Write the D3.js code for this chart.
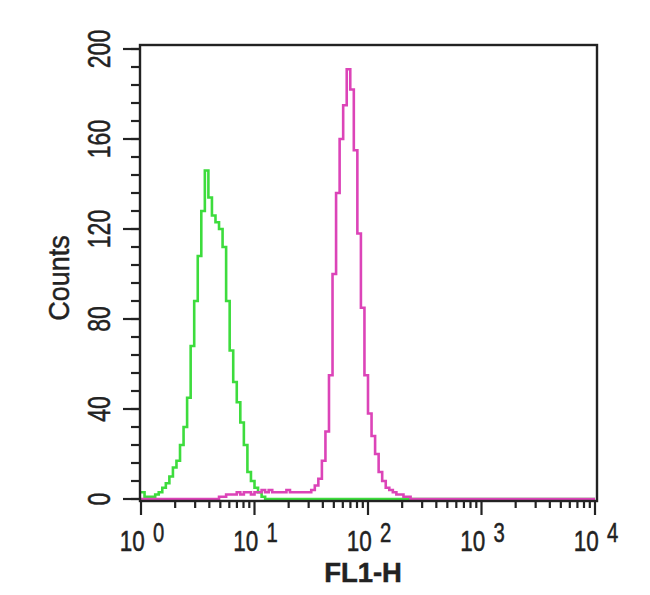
<!DOCTYPE html>
<html>
<head>
<meta charset="utf-8">
<script src="https://cdn.jsdelivr.net/npm/d3@7/dist/d3.min.js"></script>
<style>
  html, body { margin: 0; padding: 0; background: #fff; }
  svg { display: block; }
  text { font-family: "Liberation Sans", Arial, Helvetica, sans-serif; fill: #222; stroke: #222; stroke-width: 0.5; }
</style>
</head>
<body>
<svg id="chart" width="650" height="595"></svg>
<script>
// ---- data ----
// histogram bins: 128 bins across 4 decades (bin i spans 10^(i/32) .. 10^((i+1)/32))
const binsPerDecade = 32;
const totalBins = 128;
const greenStart = 0;
const greenCounts = [3,1,1,1,2,3,5,7,10,14,17,24,32,45,68,88,108,128,146,134,
  126,123,120,112,88,66,52,43,34,24,12,8,5,3,1,0];
const magentaStart = 20;
const magentaCounts = [0,0,1,1,2,2,2,3,2,3,3,2,3,3,4,3,4,3,3,3,3,4,3,3,3,3,3,3,4,6,
  9,17,30,55,100,136,160,175,191,182,155,118,85,55,38,28,20,12,8,5,4,3,2,2,1,1,0];
const yTicks = [0, 40, 80, 120, 160, 200];
const xDecades = [0, 1, 2, 3, 4];
const xLabel = "FL1-H";
const yLabel = "Counts";

// ---- layout ----
const svg = d3.select("#chart");
const x = d3.scaleLog().domain([1, 1e4]).range([141, 595]);
const y = d3.scaleLinear().domain([0, 200]).range([499, 49]);
const frame = { left: 140, right: 597, top: 45, bottom: 501 };

function series(start, counts) {
  const pts = [];
  if (start > 0) pts.push([1, 0]);
  counts.forEach((c, k) => pts.push([Math.pow(10, (start + k) / binsPerDecade), c]));
  const endBin = start + counts.length;
  if (endBin < totalBins) pts.push([Math.pow(10, endBin / binsPerDecade), 0]);
  pts.push([1e4, 0]);
  return pts;
}
const line = d3.line().x(d => x(d[0])).y(d => y(d[1])).curve(d3.curveStepAfter);

svg.append("path").datum(series(greenStart, greenCounts))
  .attr("d", line).attr("fill", "none").attr("stroke", "#3ddc3d").attr("stroke-width", 2.6);
svg.append("path").datum(series(magentaStart, magentaCounts))
  .attr("d", line).attr("fill", "none").attr("stroke", "#dc44b8").attr("stroke-width", 2.6);

// frame
svg.append("rect")
  .attr("x", frame.left).attr("y", frame.top)
  .attr("width", frame.right - frame.left).attr("height", frame.bottom - frame.top)
  .attr("fill", "none").attr("stroke", "#222").attr("stroke-width", 2.4);

// y ticks (major every 40, minor every 8)
const yMinor = d3.range(0, 201, 8);
svg.append("g").selectAll("line").data(yMinor).join("line")
  .attr("x1", 131).attr("x2", frame.left)
  .attr("y1", d => y(d)).attr("y2", d => y(d))
  .attr("stroke", "#222").attr("stroke-width", 2.2);
svg.append("g").selectAll("line").data(yTicks).join("line")
  .attr("x1", 123).attr("x2", frame.left)
  .attr("y1", d => y(d)).attr("y2", d => y(d))
  .attr("stroke", "#222").attr("stroke-width", 2.2);
svg.append("g").selectAll("text").data(yTicks).join("text")
  .attr("transform", d => `translate(110,${y(d)}) rotate(-90) scale(0.72,1)`)
  .attr("text-anchor", "middle")
  .attr("font-size", 32)
  .text(d => d);

// x ticks
const xMinor = [];
xDecades.slice(0, -1).forEach(e => { for (let m = 2; m <= 9; m++) xMinor.push(m * Math.pow(10, e)); });
svg.append("g").selectAll("line").data(xMinor).join("line")
  .attr("x1", d => x(d)).attr("x2", d => x(d))
  .attr("y1", frame.bottom).attr("y2", frame.bottom + 7)
  .attr("stroke", "#222").attr("stroke-width", 2.2);
svg.append("g").selectAll("line").data(xDecades).join("line")
  .attr("x1", d => x(Math.pow(10, d))).attr("x2", d => x(Math.pow(10, d)))
  .attr("y1", frame.bottom).attr("y2", frame.bottom + 14)
  .attr("stroke", "#222").attr("stroke-width", 2.2);
const xt = svg.append("g").selectAll("text").data(xDecades).join("text")
  .attr("transform", d => `translate(${x(Math.pow(10, d)) + 1},551) scale(0.75,1)`)
  .attr("text-anchor", "middle");
xt.append("tspan").attr("font-size", 30).text("10");
xt.append("tspan").attr("font-size", 27).attr("dx", 11).attr("dy", -9).text(d => d);

// axis labels
svg.append("text")
  .attr("transform", "translate(363,582) scale(0.98,1)")
  .attr("text-anchor", "middle").attr("font-size", 28).attr("font-weight", "bold")
  .attr("stroke-width", 0)
  .text(xLabel);
svg.append("text")
  .attr("transform", "translate(69,278) rotate(-90) scale(0.93,1)")
  .attr("text-anchor", "middle").attr("font-size", 29)
  .text(yLabel);
</script>
</body>
</html>
